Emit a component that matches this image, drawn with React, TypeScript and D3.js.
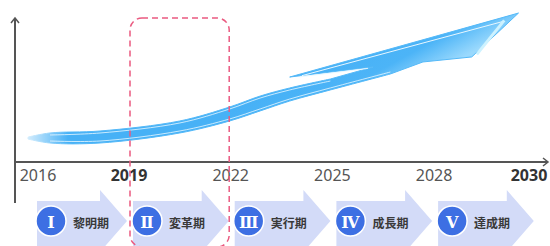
import { useRef, useEffect } from 'react';
import * as d3 from 'd3';

const years = ['2016', '2019', '2022', '2025', '2028', '2030'];
const boldYears = ['2019', '2030'];
const phaseNumerals = ['Ⅰ', 'Ⅱ', 'Ⅲ', 'Ⅳ', 'Ⅴ'];
const phaseNames = ['黎明期', '変革期', '実行期', '成長期', '達成期'];
const highlightFrom = '2019';
const highlightTo = '2022';

// growth swoosh outline, [year index, value 0..100]
const swooshLower: [number, number][] = [
  [0.007, 15.1], [0.223, 12.5], [0.715, 12.5], [1.5, 19.1], [1.99, 27.0],
  [2.29, 33.6], [2.58, 40.1], [2.98, 47.4], [3.57, 57.9],
];
const swooshHead: [number, number][] = [
  [3.89, 65.8], [4.37, 69.1], [4.83, 98.0], [2.58, 55.9], [3.4, 62.5],
];
const swooshUpper: [number, number][] = [
  [2.98, 54.6], [2.58, 48.7], [2.29, 43.4], [1.99, 36.2], [1.5, 27.0],
  [0.715, 20.4], [0.223, 19.1], [0.007, 16.4],
];

export default function App() {
  const svgRef = useRef<SVGSVGElement>(null);
  const width = 550;
  const height = 246;

  useEffect(() => {
    const svg = d3.select(svgRef.current);
    svg.selectAll('*').remove();

    const axisX = 15;
    const axisY = 162;
    const axisRight = 548;

    const x = d3.scalePoint<string>().domain(years).range([27.3, 535.8]);
    const xi = d3.scaleLinear().domain([0, years.length - 1]).range([27.3, 535.8]);
    const y = d3.scaleLinear().domain([0, 100]).range([axisY, 10]);

    const defs = svg.append('defs');
    const grad = defs.append('linearGradient').attr('id', 'swFill')
      .attr('gradientUnits', 'userSpaceOnUse')
      .attr('x1', 400).attr('y1', 20).attr('x2', 430).attr('y2', 75);
    grad.append('stop').attr('offset', '0%').attr('stop-color', '#47b1f6');
    grad.append('stop').attr('offset', '55%').attr('stop-color', '#4cb4f7');
    grad.append('stop').attr('offset', '100%').attr('stop-color', '#9ad9fd');

    const fade = defs.append('linearGradient').attr('id', 'tailFade')
      .attr('gradientUnits', 'userSpaceOnUse')
      .attr('x1', xi(0) - 2).attr('y1', 0).attr('x2', xi(0.4)).attr('y2', 0);
    fade.append('stop').attr('offset', '0%').attr('stop-color', '#fff').attr('stop-opacity', 0.2);
    fade.append('stop').attr('offset', '100%').attr('stop-color', '#fff').attr('stop-opacity', 1);
    defs.append('mask').attr('id', 'tailMask')
      .append('rect').attr('x', 0).attr('y', 0).attr('width', width).attr('height', height)
      .attr('fill', 'url(#tailFade)');

    // Swoosh
    const smooth = d3.line<[number, number]>()
      .x(d => xi(d[0])).y(d => y(d[1]))
      .curve(d3.curveCatmullRom);
    const straight = d3.line<[number, number]>()
      .x(d => xi(d[0])).y(d => y(d[1]));
    const body = smooth(swooshLower)!
      + (straight([swooshLower[swooshLower.length - 1], ...swooshHead, swooshUpper[0]]) || '').replace(/^M/, 'L')
      + (smooth(swooshUpper) || '').replace(/^M/, 'L') + 'Z';

    const sw = svg.append('g').attr('mask', 'url(#tailMask)');
    sw.append('path').attr('d', body)
      .attr('fill', 'url(#swFill)').attr('stroke', '#55b9f8').attr('stroke-width', 1)
      .attr('stroke-linejoin', 'miter');

    // inner highlights
    const offsetLine = (pts: [number, number][], dy: number) => d3.line<[number, number]>()
      .x(d => xi(d[0])).y(d => y(d[1]) + dy).curve(d3.curveCatmullRom)(pts);
    sw.append('path').attr('d', offsetLine(swooshLower.slice(1), -2))
      .attr('fill', 'none').attr('stroke', '#e8f7ff').attr('stroke-width', 0.9).attr('opacity', 0.9);
    sw.append('path').attr('d', offsetLine(swooshUpper.slice(0, -1), 2))
      .attr('fill', 'none').attr('stroke', '#e8f7ff').attr('stroke-width', 0.9).attr('opacity', 0.9);
    // head highlights
    sw.append('path')
      .attr('d', straight([[2.7, 56.8], [4.68, 92.5]]))
      .attr('fill', 'none').attr('stroke', '#e8f7ff').attr('stroke-width', 1);
    sw.append('path')
      .attr('d', straight([[4.69, 93.2], [4.42, 70.8]]))
      .attr('fill', 'none').attr('stroke', '#cdf2ff').attr('stroke-width', 3);
    sw.append('path')
      .attr('d', straight([[2.68, 56.0], [3.35, 61.6]]))
      .attr('fill', 'none').attr('stroke', '#e8f7ff').attr('stroke-width', 0.9);

    // Axes
    const axisColor = '#555';
    svg.append('line').attr('x1', axisX).attr('y1', 203).attr('x2', axisX).attr('y2', 18)
      .attr('stroke', axisColor).attr('stroke-width', 2);
    svg.append('path').attr('d', `M${axisX - 4},${23} L${axisX},${18} L${axisX + 4},${23}`)
      .attr('fill', 'none').attr('stroke', axisColor).attr('stroke-width', 1.5);
    svg.append('line').attr('x1', axisX).attr('y1', axisY).attr('x2', axisRight).attr('y2', axisY)
      .attr('stroke', axisColor).attr('stroke-width', 2);
    svg.append('path').attr('d', `M${axisRight - 5},${axisY - 4} L${axisRight},${axisY} L${axisRight - 5},${axisY + 4}`)
      .attr('fill', 'none').attr('stroke', axisColor).attr('stroke-width', 1.5);

    years.forEach(yr => {
      const bold = boldYears.includes(yr);
      const px = Math.min(Math.max(x(yr)!, 38), 529);
      svg.append('text')
        .attr('x', px).attr('y', 181)
        .attr('text-anchor', 'middle')
        .attr('font-family', '"Noto Sans", sans-serif')
        .attr('font-size', 16)
        .attr('font-weight', bold ? 'bold' : 'normal')
        .attr('fill', bold ? '#333' : '#555')
        .text(yr);
    });

    // Phase arrows
    const arrowMid = 221;
    phaseNames.forEach((name, i) => {
      const x0 = Math.max(x(years[i])! + 4, 37);
      const x1 = x(years[i + 1])! - 2;
      const headLen = 27;
      const g = svg.append('g');
      g.append('path')
        .attr('d', `M${x0},${arrowMid - 20} L${x1 - headLen},${arrowMid - 20} L${x1 - headLen},${arrowMid - 31}`
          + ` L${x1},${arrowMid} L${x1 - headLen},${arrowMid + 31} L${x1 - headLen},${arrowMid + 30} L${x0},${arrowMid + 30} Z`)
        .attr('fill', '#d3dbf8');
      const cx = x0 + 14;
      g.append('circle').attr('cx', cx).attr('cy', arrowMid).attr('r', 15)
        .attr('fill', '#3d6fe3').attr('stroke', '#fff').attr('stroke-width', 1.5);
      g.append('text').attr('x', cx).attr('y', arrowMid + 1)
        .attr('text-anchor', 'middle').attr('dominant-baseline', 'central')
        .attr('font-family', '"DejaVu Serif", serif').attr('font-weight', 'bold')
        .attr('font-size', 16).attr('fill', '#fff')
        .text(phaseNumerals[i]);
      g.append('text').attr('x', cx + 22).attr('y', arrowMid + 1)
        .attr('dominant-baseline', 'central')
        .attr('font-family', '"Noto Sans CJK JP", sans-serif').attr('font-weight', 'bold')
        .attr('font-size', 12).attr('fill', '#3a3a3a')
        .text(name);
    });

    // Highlight frame
    const fx0 = x(highlightFrom)! + 1;
    const fx1 = x(highlightTo)! - 1.5;
    svg.append('rect')
      .attr('x', fx0).attr('y', 18).attr('width', fx1 - fx0).attr('height', 229)
      .attr('rx', 12).attr('ry', 12)
      .attr('fill', 'none').attr('stroke', '#ea5a80').attr('stroke-width', 1.5)
      .attr('stroke-dasharray', '6,4');
  }, []);

  return (
    <div style={{ position: 'absolute', left: 0, top: 0 }}>
      <svg ref={svgRef} width={width} height={height} style={{ display: 'block', background: '#fff' }} />
    </div>
  );
}
